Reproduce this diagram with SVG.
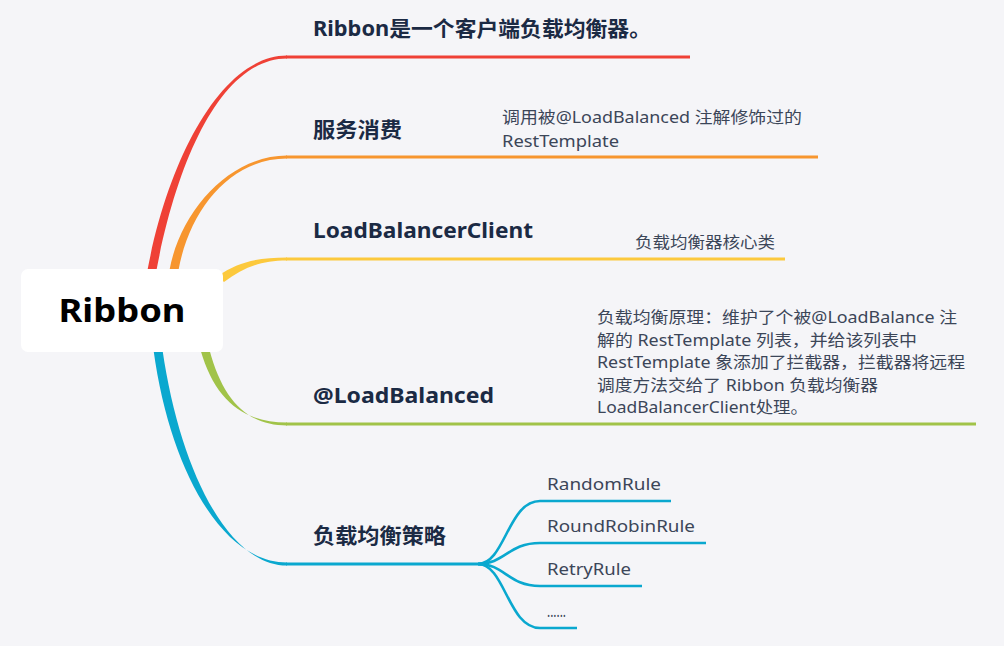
<svg xmlns="http://www.w3.org/2000/svg" width="1004" height="646" viewBox="0 0 1004 646">
<style>
.t1{font-family:"Noto Sans","Noto Sans CJK SC",sans-serif;font-weight:bold;font-size:21px;fill:#1b2a44}
.t2{font-family:"Noto Sans","Noto Sans CJK SC",sans-serif;font-size:16px;fill:#3c4658}
.ln{fill:none;stroke-width:3;stroke-linecap:butt}
.cl{fill:none;stroke:#0aa8cf;stroke-width:2.6}
</style>
<rect x="0" y="0" width="1004" height="646" fill="#f5f5f8"/>
<g id="connectors">
  <path d="M147.5,270 C170.5,150 225,55.5 287,55.5 L287,58.5 C225,58.5 179.5,150 156.5,270 Z" fill="#ef4136"/>
  <line class="ln" x1="286" y1="57" x2="690" y2="57" stroke="#ef4136"/>
  <path d="M169.5,270 C180.5,210 230,155.5 287,155.5 L287,158.5 C230,158.5 189.5,210 178.5,270 Z" fill="#f7962f"/>
  <line class="ln" x1="286" y1="157" x2="818" y2="157" stroke="#f7962f"/>
  <path d="M218,276 C238,262 258,257.5 287,257.5 L287,260.5 C260,260.5 243,268 224,282 Z" fill="#fcc93d"/>
  <line class="ln" x1="286" y1="259" x2="785" y2="259" stroke="#fcc93d"/>
  <path d="M200.5,350 C215,400 243,422.5 287,422.5 L287,425.5 C247,425.5 223,400 209.5,350 Z" fill="#a1c349"/>
  <line class="ln" x1="286" y1="424" x2="976" y2="424" stroke="#a1c349"/>
  <path d="M153.5,350 C170,470 222,562.5 287,562.5 L287,565.5 C228,565.5 180,470 162.5,350 Z" fill="#0aa8cf"/>
  <line class="ln" x1="286" y1="564" x2="482" y2="564" stroke="#0aa8cf"/>
  <path class="cl" d="M478,564 C505,564 508,501 540,501 L671,501"/>
  <path class="cl" d="M478,564 C505,564 508,543 540,543 L706,543"/>
  <path class="cl" d="M478,564 C505,564 508,586 540,586 L642,586"/>
  <path class="cl" d="M478,564 C505,564 508,628 540,628 L577,628"/>
</g>
<g id="root">
  <rect x="21" y="269" width="202" height="83" rx="7" fill="#ffffff"/>
  <text x="122" y="322" text-anchor="middle" font-family="'Noto Sans',sans-serif" font-weight="bold" font-size="33" fill="#000" textLength="127" lengthAdjust="spacingAndGlyphs">Ribbon</text>
</g>
<g id="n1">
  <text class="t1" x="313" y="36" textLength="338" lengthAdjust="spacingAndGlyphs">Ribbon是一个客户端负载均衡器。</text>
</g>
<g id="n2">
  <text class="t1" x="313" y="137" textLength="89" lengthAdjust="spacingAndGlyphs">服务消费</text>
  <text class="t2" x="502" y="123" textLength="300" lengthAdjust="spacingAndGlyphs">调用被@LoadBalanced 注解修饰过的</text>
  <text class="t2" x="502" y="147" textLength="117" lengthAdjust="spacingAndGlyphs">RestTemplate</text>
</g>
<g id="n3">
  <text class="t1" x="313" y="238" textLength="220" lengthAdjust="spacingAndGlyphs">LoadBalancerClient</text>
  <text class="t2" x="635" y="248" textLength="140" lengthAdjust="spacingAndGlyphs">负载均衡器核心类</text>
</g>
<g id="n4">
  <text class="t1" x="313" y="403" textLength="181" lengthAdjust="spacingAndGlyphs">@LoadBalanced</text>
  <text class="t2" x="597" y="323" textLength="360" lengthAdjust="spacingAndGlyphs">负载均衡原理：维护了个被@LoadBalance 注</text>
  <text class="t2" x="597" y="346" textLength="320" lengthAdjust="spacingAndGlyphs">解的 RestTemplate 列表，并给该列表中</text>
  <text class="t2" x="597" y="368" textLength="368" lengthAdjust="spacingAndGlyphs">RestTemplate 象添加了拦截器，拦截器将远程</text>
  <text class="t2" x="597" y="391" textLength="281" lengthAdjust="spacingAndGlyphs">调度方法交给了 Ribbon 负载均衡器</text>
  <text class="t2" x="597" y="413" textLength="211" lengthAdjust="spacingAndGlyphs">LoadBalancerClient处理。</text>
</g>
<g id="n5">
  <text class="t1" x="313" y="543" textLength="133" lengthAdjust="spacingAndGlyphs">负载均衡策略</text>
</g>
<g id="c1"><text class="t2" x="547" y="490" textLength="114" lengthAdjust="spacingAndGlyphs">RandomRule</text></g>
<g id="c2"><text class="t2" x="547" y="532" textLength="148" lengthAdjust="spacingAndGlyphs">RoundRobinRule</text></g>
<g id="c3"><text class="t2" x="547" y="575" textLength="84" lengthAdjust="spacingAndGlyphs">RetryRule</text></g>
<g id="c4"><text class="t2" x="547" y="617" font-size="11" textLength="19" lengthAdjust="spacingAndGlyphs">......</text></g>
</svg>
